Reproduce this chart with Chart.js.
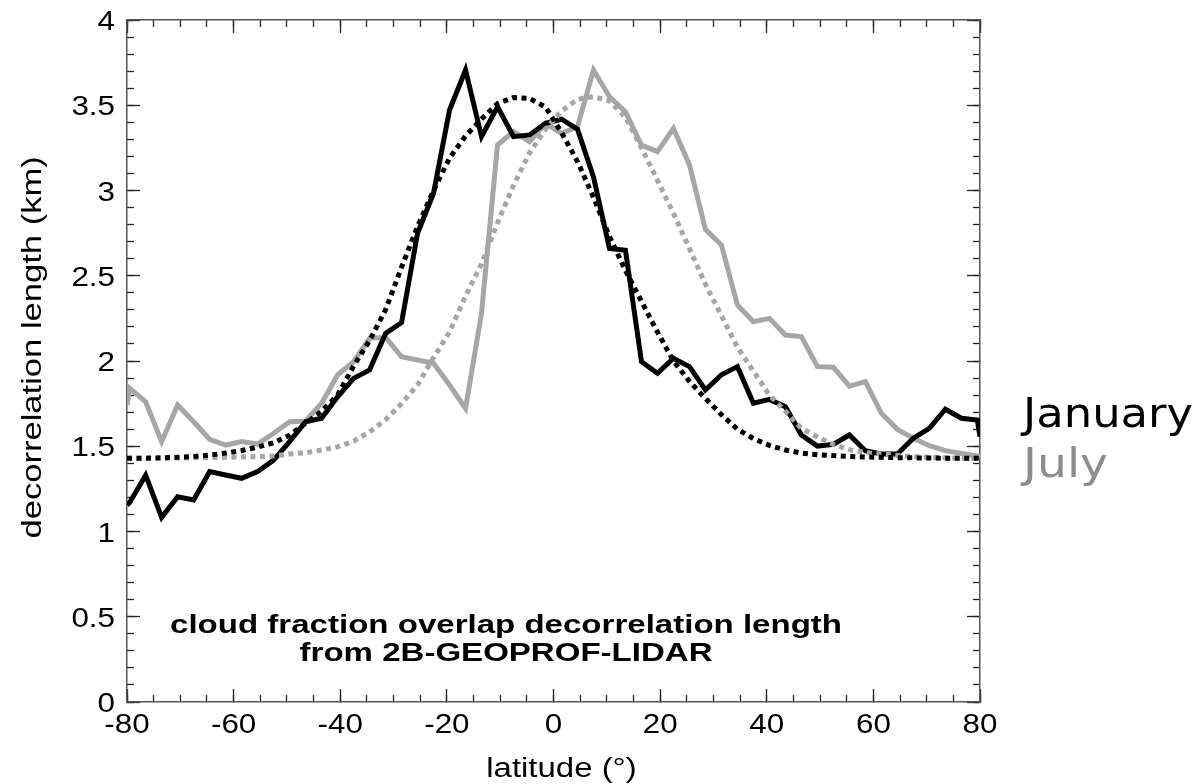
<!DOCTYPE html>
<html><head><meta charset="utf-8">
<script src="https://cdn.jsdelivr.net/npm/chart.js@4.4.1/dist/chart.umd.min.js"></script>
<style>html,body{margin:0;padding:0;background:#fff}#wrap{width:1197px;height:784px}</style>
</head><body><div id="wrap"><canvas id="c" width="1197" height="784"></canvas></div>
<script>
const latitude = [-80,-79.5,-76.5,-73.5,-70.5,-67.5,-64.5,-61.5,-58.5,-55.5,-52.5,-49.5,-46.5,-43.5,-40.5,-37.5,-34.5,-31.5,-28.5,-25.5,-22.5,-19.5,-16.5,-13.5,-10.5,-7.5,-4.5,-1.5,1.5,4.5,7.5,10.5,13.5,16.5,19.5,22.5,25.5,28.5,31.5,34.5,37.5,40.5,43.5,46.5,49.5,52.5,55.5,58.5,61.5,64.5,67.5,70.5,73.5,76.5,79.5,80];
const january = [1.155,1.17,1.33,1.083,1.204,1.185,1.351,1.331,1.312,1.351,1.419,1.527,1.644,1.664,1.79,1.898,1.947,2.162,2.225,2.749,2.984,3.472,3.707,3.316,3.491,3.316,3.326,3.394,3.418,3.36,3.08,2.66,2.65,1.996,1.928,2.016,1.967,1.83,1.919,1.967,1.752,1.775,1.732,1.566,1.501,1.511,1.566,1.474,1.455,1.455,1.547,1.605,1.717,1.664,1.654,1.556];
const july = [1.742,1.84,1.761,1.527,1.742,1.644,1.541,1.507,1.527,1.513,1.576,1.644,1.648,1.752,1.918,1.996,2.133,2.139,2.025,2.006,1.987,1.859,1.722,2.28,3.267,3.345,3.286,3.394,3.335,3.374,3.707,3.55,3.462,3.267,3.228,3.365,3.15,2.772,2.68,2.328,2.23,2.25,2.152,2.143,1.967,1.963,1.853,1.879,1.693,1.599,1.547,1.503,1.474,1.458,1.443,1.44];
const januaryFit = [1.43,1.43,1.43,1.432,1.435,1.44,1.448,1.46,1.475,1.495,1.52,1.565,1.635,1.705,1.8,1.97,2.12,2.3,2.55,2.79,3.0,3.19,3.32,3.42,3.51,3.545,3.54,3.49,3.34,3.17,2.96,2.73,2.53,2.35,2.17,2.0,1.88,1.78,1.685,1.6,1.545,1.505,1.478,1.46,1.45,1.445,1.44,1.437,1.435,1.433,1.432,1.431,1.43,1.43,1.43,1.43];
const julyFit = [1.43,1.43,1.43,1.43,1.431,1.432,1.433,1.435,1.437,1.44,1.443,1.455,1.462,1.478,1.496,1.53,1.585,1.655,1.75,1.86,2.02,2.17,2.38,2.57,2.81,3.03,3.22,3.36,3.465,3.535,3.55,3.525,3.43,3.25,3.06,2.866,2.66,2.45,2.265,2.08,1.94,1.8,1.705,1.605,1.555,1.51,1.48,1.463,1.455,1.446,1.439,1.435,1.432,1.43,1.43,1.43];
const xTickLabels = ['-80','-60','-40','-20','0','20','40','60','80'];
const yTickLabels = ['0','0.5','1','1.5','2','2.5','3','3.5','4'];
const seriesNames = ['January','July'];
const noteLines = ['cloud fraction overlap decorrelation length','from 2B-GEOPROF-LIDAR'];
const xTitle = 'latitude (°)';
const yTitle = 'decorrelation length (km)';

const SANS = "'Liberation Sans', Arial, Helvetica, sans-serif";
const BLACK = '#000000', GRAY = '#a6a6a6';
const STRETCH = 1.27;
const pts = arr => arr.map((v, i) => ({x: latitude[i], y: v}));

function mkAxis(pos, min, max, step, tl, extra) {
  const horiz = pos === 'top' || pos === 'bottom';
  const base = {
    type: 'linear', position: pos, min: min, max: max,
    ticks: {stepSize: step, display: false, autoSkip: false},
    grid: {drawOnChartArea: false, drawTicks: true, tickLength: tl, tickColor: '#222', tickWidth: 1.3},
    border: {display: false},
    afterFit: s => { if (horiz) s.height = 0; else s.width = 0; s.paddingTop = 0; s.paddingBottom = 0; s.paddingLeft = 0; s.paddingRight = 0; }
  };
  return Object.assign(base, extra || {});
}

// draws real text; sx = horizontal stretch factor (or fit to widthTarget)
function wideText(ctx, text, x, y, font, sx, align, rotated, color, widthTarget) {
  ctx.save();
  ctx.font = font;
  ctx.fillStyle = color || '#000';
  let s = sx;
  if (widthTarget) s = widthTarget / ctx.measureText(text).width;
  ctx.translate(x, y);
  if (rotated) ctx.rotate(-Math.PI / 2);
  ctx.scale(s, 1);
  ctx.textAlign = align;
  ctx.textBaseline = rotated ? 'middle' : 'alphabetic';
  ctx.fillText(text, 0, 0);
  ctx.restore();
}

const textPlugin = {
  id: 'texts',
  afterDraw(chart) {
    const ctx = chart.ctx, xs = chart.scales.x, ys = chart.scales.y, ca = chart.chartArea;
    const tickFont = "28px " + SANS;
    xs.ticks.forEach((t, i) => {
      wideText(ctx, xTickLabels[i] ?? String(t.value), xs.getPixelForValue(t.value), 733, tickFont, 1.12, 'center');
    });
    ys.ticks.forEach((t, i) => {
      wideText(ctx, yTickLabels[i] ?? String(t.value), 115, ys.getPixelForValue(t.value) + 10, tickFont, 1.12, 'right');
    });
    const cx = xs.getPixelForValue(-8.9);
    wideText(ctx, noteLines[0], cx, ys.getPixelForValue(0.405), "bold 26px " + SANS, STRETCH, 'center', false, '#000', 672);
    wideText(ctx, noteLines[1], cx, ys.getPixelForValue(0.241), "bold 26px " + SANS, STRETCH, 'center', false, '#000', 413);
    wideText(ctx, xTitle, xs.getPixelForValue(1.5), 777, "27px " + SANS, 1.22, 'center');
    wideText(ctx, yTitle, 34, ys.getPixelForValue(2.08), "27px " + SANS, 1.28, 'center', true);
    const lx = ca.right + 43;
    wideText(ctx, seriesNames[0], lx, 427, "41px 'DejaVu Sans', sans-serif", 1, 'left', false, '#000', 170);
    wideText(ctx, seriesNames[1], lx, 477, "41px 'DejaVu Sans', sans-serif", 1, 'left', false, '#8c8c8c', 85);
  }
};

new Chart(document.getElementById('c'), {
  type: 'line',
  data: {
    datasets: [
      {label: 'January fit', data: pts(januaryFit), borderColor: BLACK, borderWidth: 5, borderDash: [5, 4.5], borderCapStyle: 'butt', pointRadius: 0, tension: 0, fill: false},
      {label: 'July fit', data: pts(julyFit), borderColor: GRAY, borderWidth: 5, borderDash: [5, 4.5], borderCapStyle: 'butt', pointRadius: 0, tension: 0, fill: false},
      {label: seriesNames[0], data: pts(january), borderColor: BLACK, borderWidth: 5, pointRadius: 0, tension: 0, fill: false, borderJoinStyle: 'miter'},
      {label: seriesNames[1], data: pts(july), borderColor: GRAY, borderWidth: 5, pointRadius: 0, tension: 0, fill: false, borderJoinStyle: 'miter'}
    ]
  },
  options: {
    responsive: false, animation: false, devicePixelRatio: 1,
    layout: {padding: {top: 20, right: 217, left: 0, bottom: 0}},
    plugins: {legend: {display: false}, tooltip: {enabled: false}, title: {display: false}},
    scales: {
      xm: mkAxis('bottom', -80, 80, 5, -7, {weight: 0}),
      x: {
        type: 'linear', position: 'bottom', min: -80, max: 80, weight: 1,
        ticks: {stepSize: 20, autoSkip: false, display: false},
        grid: {drawOnChartArea: false, tickLength: -13, tickColor: '#222', tickWidth: 1.3},
        border: {display: true, color: '#555', width: 1.5},
        afterFit: s => { s.height = 82; s.paddingLeft = 0; s.paddingRight = 0; }
      },
      x2m: mkAxis('top', -80, 80, 5, -7, {weight: 0}),
      x2: mkAxis('top', -80, 80, 20, -13, {weight: 1, border: {display: true, color: '#555', width: 1.5}}),
      ym: mkAxis('left', 0, 4, 0.1, -7, {weight: 0}),
      y: {
        type: 'linear', position: 'left', min: 0, max: 4, weight: 1,
        ticks: {stepSize: 0.5, autoSkip: false, display: false},
        grid: {drawOnChartArea: false, tickLength: -13, tickColor: '#222', tickWidth: 1.3},
        border: {display: true, color: '#555', width: 1.5},
        afterFit: s => { s.width = 127; s.paddingTop = 0; s.paddingBottom = 0; }
      },
      y2m: mkAxis('right', 0, 4, 0.1, -7, {weight: 0}),
      y2: mkAxis('right', 0, 4, 0.5, -13, {weight: 1, border: {display: true, color: '#555', width: 1.5}})
    }
  },
  plugins: [textPlugin]
});
</script></body></html>
